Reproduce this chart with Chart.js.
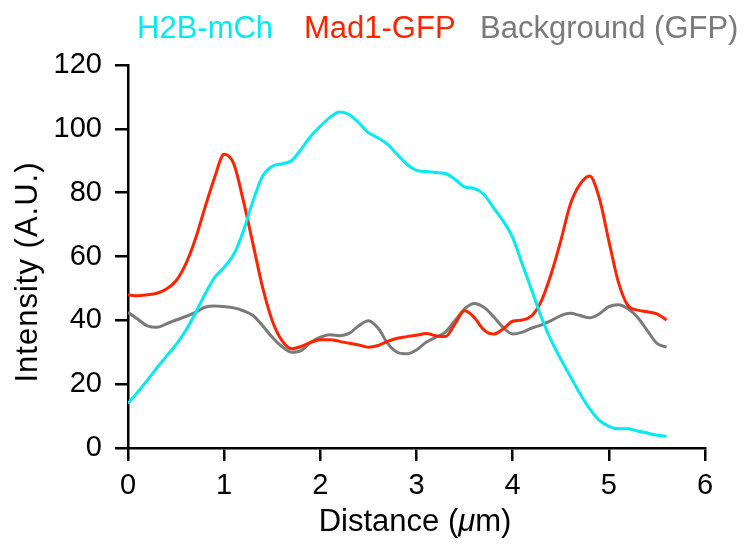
<!DOCTYPE html>
<html>
<head>
<meta charset="utf-8">
<script src="https://cdn.jsdelivr.net/npm/chart.js@4"></script>
<style>
  html, body { margin: 0; padding: 0; background: #fff; }
  #wrap { width: 750px; height: 545px; position: relative; }
</style>
</head>
<body>
<div id="wrap"><canvas id="profile" width="750" height="545"></canvas></div>
<script>
"use strict";

// Distance (µm), 0.1 steps
const distance = [
    0.0, 0.1, 0.2, 0.3, 0.4, 0.5, 0.6, 0.7, 0.8, 0.9,
    1.0, 1.1, 1.2, 1.3, 1.4, 1.5, 1.6, 1.7, 1.8, 1.9,
    2.0, 2.1, 2.2, 2.3, 2.4, 2.5, 2.6, 2.7, 2.8, 2.9,
    3.0, 3.1, 3.2, 3.3, 3.4, 3.5, 3.6, 3.7, 3.8, 3.9,
    4.0, 4.1, 4.2, 4.3, 4.4, 4.5, 4.6, 4.7, 4.8, 4.9,
    5.0, 5.1, 5.2, 5.3, 5.4, 5.5, 5.6
];

const h2bValues = [
    13.9, 17.5, 21.2, 25.1, 28.8, 32.4, 36.8, 42.2, 48.2, 53.4,
    56.6, 60.7, 68.0, 77.4, 85.2, 88.3, 89.0, 90.0, 93.6, 97.7,
    100.8, 103.6, 105.3, 104.5, 101.9, 98.8, 97.2, 95.1, 92.0, 88.9,
    87.0, 86.6, 86.3, 86.0, 84.2, 81.8, 81.3, 79.5, 75.3, 71.2,
    65.9, 57.6, 49.3, 40.9, 33.7, 27.9, 22.4, 17.0, 12.3, 8.7,
    6.8, 6.0, 6.0, 5.3, 4.7, 4.0, 3.7
];

const mad1Values = [
    48.0, 47.7, 48.0, 48.5, 49.8, 52.4, 57.6, 65.4, 75.3, 84.7,
    92.0, 89.0, 77.4, 63.9, 50.3, 39.9, 33.7, 31.1, 31.8, 33.1,
    33.9, 33.9, 33.4, 32.8, 32.3, 31.6, 32.1, 33.4, 34.4, 34.9,
    35.3, 35.9, 35.2, 34.9, 38.9, 43.0, 40.9, 37.0, 35.7, 37.3,
    39.7, 40.1, 41.5, 46.2, 54.5, 64.9, 76.4, 82.6, 85.2, 78.4,
    64.9, 51.9, 44.6, 43.2, 42.7, 42.0, 40.1
];

const backgroundValues = [
    42.5, 40.4, 38.3, 37.8, 38.9, 40.1, 41.2, 42.5, 44.1, 44.5,
    44.3, 43.9, 43.0, 41.5, 38.3, 34.7, 31.8, 30.0, 30.5, 33.1,
    34.7, 35.5, 35.2, 35.9, 38.3, 39.9, 37.6, 32.8, 30.0, 29.5,
    30.7, 33.1, 34.7, 36.3, 39.9, 43.6, 45.3, 44.1, 41.2, 37.8,
    35.7, 36.3, 37.6, 38.6, 39.9, 41.5, 42.2, 41.5, 40.8, 42.0,
    44.3, 44.9, 43.6, 40.9, 36.8, 32.8, 31.6
];

const seriesNames = ["H2B-mCh", "Mad1-GFP", "Background (GFP)"];
const seriesColors = ["#00eaf2", "#ff2400", "#7a7a7a"];
const legendX = [137, 304, 480];
const xTicks = [0, 1, 2, 3, 4, 5, 6];
const yTicks = [0, 20, 40, 60, 80, 100, 120];

const FONT = "'Liberation Sans', Arial, Helvetica, sans-serif";

function toPoints(values) {
    return values.map((v, i) => ({ x: distance[i], y: v }));
}

// Legend (text only) and axis titles
const textPlugin = {
    id: "textPlugin",
    afterDraw(chart) {
        const ctx = chart.ctx;
        ctx.save();
        ctx.font = "31px " + FONT;
        ctx.textBaseline = "middle";
        ctx.textAlign = "left";
        seriesNames.forEach((name, i) => {
            ctx.fillStyle = seriesColors[i];
            ctx.fillText(name, legendX[i], 29);
        });

        // y title
        ctx.fillStyle = "#000";
        ctx.save();
        ctx.translate(28, 272);
        ctx.rotate(-Math.PI / 2);
        ctx.textAlign = "center";
        ctx.letterSpacing = "1px";
        ctx.fillText("Intensity (A.U.)", 0, 0);
        ctx.restore();

        // x title with italic mu
        const parts = [["Distance (", "31px " + FONT], ["\u03bc", "italic 31px " + FONT], ["m)", "31px " + FONT]];
        let total = 0;
        parts.forEach(p => { ctx.font = p[1]; total += ctx.measureText(p[0]).width; });
        let x = 415 - total / 2;
        ctx.textAlign = "left";
        parts.forEach(p => {
            ctx.font = p[1];
            ctx.fillText(p[0], x, 522);
            x += ctx.measureText(p[0]).width;
        });
        ctx.restore();
    }
};

const ctx = document.getElementById("profile");
new Chart(ctx, {
    type: "line",
    data: {
        datasets: [
            { label: seriesNames[0], data: toPoints(h2bValues), borderColor: seriesColors[0] },
            { label: seriesNames[1], data: toPoints(mad1Values), borderColor: seriesColors[1] },
            { label: seriesNames[2], data: toPoints(backgroundValues), borderColor: seriesColors[2] }
        ]
    },
    options: {
        responsive: false,
        animation: false,
        devicePixelRatio: 1,
        layout: { padding: { top: 65, right: 45, left: 0, bottom: 0 } },
        elements: {
            point: { radius: 0 },
            line: { borderWidth: 3, tension: 0.25, cubicInterpolationMode: "monotone" }
        },
        plugins: {
            legend: { display: false },
            tooltip: { enabled: false }
        },
        scales: {
            x: {
                type: "linear",
                min: 0,
                max: 6,
                afterBuildTicks: s => { s.ticks = xTicks.map(v => ({ value: v })); },
                afterFit: s => { s.height = 97; },
                border: { display: true, color: "#000", width: 2.5 },
                grid: { drawOnChartArea: false, drawTicks: true, tickLength: 13, color: "#000", lineWidth: 2.5 },
                ticks: { color: "#000", font: { family: FONT, size: 29 }, padding: 8, maxRotation: 0 }
            },
            y: {
                min: 0,
                max: 120,
                afterBuildTicks: s => { s.ticks = yTicks.map(v => ({ value: v })); },
                afterFit: s => { s.width = 128; },
                border: { display: true, color: "#000", width: 2.5 },
                grid: { drawOnChartArea: false, drawTicks: true, tickLength: 13, color: "#000", lineWidth: 2.5 },
                ticks: { color: "#000", font: { family: FONT, size: 29 }, padding: 13 }
            }
        }
    },
    plugins: [textPlugin]
});
</script>
</body>
</html>
